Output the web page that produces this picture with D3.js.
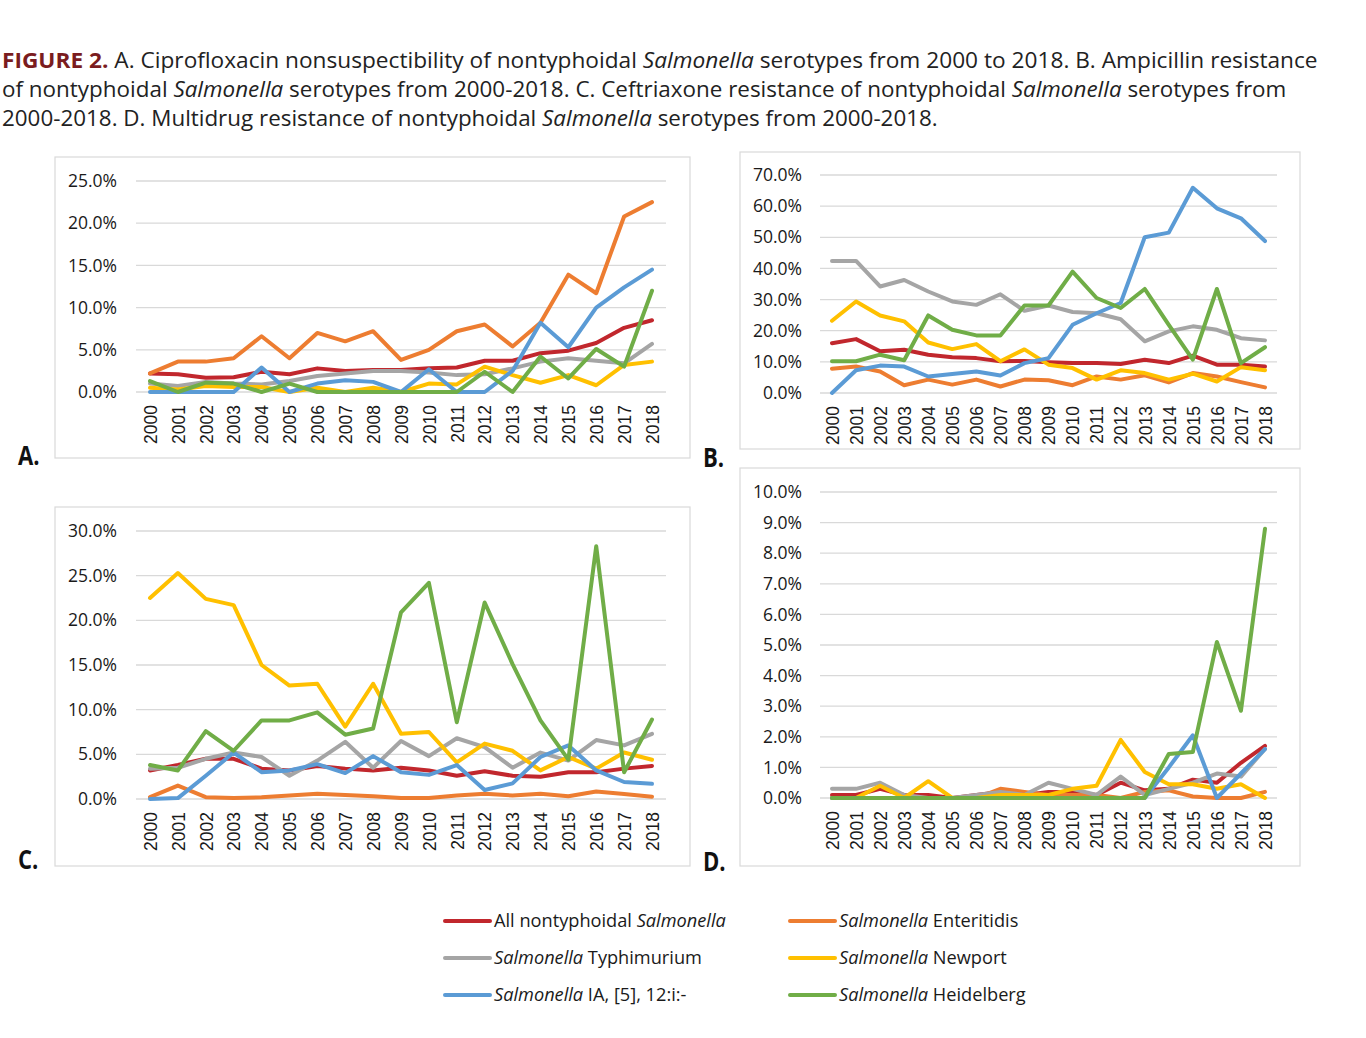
<!DOCTYPE html>
<html><head><meta charset="utf-8">
<script src="https://cdn.jsdelivr.net/npm/d3@7"></script>
<style>body{margin:0;background:#fff;} svg{display:block;}</style>
</head><body>
<svg id="c" width="1366" height="1038"></svg>
<script>
// ---------- data ----------
const years = [2000,2001,2002,2003,2004,2005,2006,2007,2008,2009,2010,2011,2012,2013,2014,2015,2016,2017,2018];
const seriesNames = ["All nontyphoidal", "Enteritidis", "Typhimurium", "Newport", "IA, [5], 12:i:-", "Heidelberg"];
const seriesColors = ["#c1272d", "#ed7d31", "#a5a5a5", "#ffc000", "#5b9bd5", "#70ad47"];

const ticksA = [0,5,10,15,20,25];
const ticksB = [0,10,20,30,40,50,60,70];
const ticksC = [0,5,10,15,20,25,30];
const ticksD = [0,1,2,3,4,5,6,7,8,9,10];

// A. Ciprofloxacin nonsusceptibility (%)
const ciproAll   = [2.2,2.1,1.7,1.75,2.4,2.1,2.8,2.5,2.6,2.6,2.8,2.9,3.7,3.7,4.6,4.9,5.8,7.6,8.5];
const ciproEnt   = [2.2,3.6,3.6,4.0,6.6,4.0,7.0,6.0,7.2,3.8,5.0,7.2,8.0,5.4,8.2,13.9,11.7,20.8,22.5];
const ciproTyph  = [1.0,0.7,1.2,1.0,0.9,1.3,1.9,2.2,2.5,2.5,2.3,2.0,2.1,2.8,3.6,4.0,3.7,3.4,5.7];
const ciproNew   = [0.5,0.3,0.7,0.6,0.6,0.0,0.5,0.0,0.5,0.0,1.0,0.9,3.0,2.0,1.1,2.0,0.8,3.2,3.6];
const ciproIA    = [0,0,0,0,2.9,0,1.0,1.4,1.2,0,2.7,0,0,2.5,8.2,5.3,10.0,12.4,14.5];
const ciproHeid  = [1.3,0,1.1,1.0,0,1.0,0,0,0,0,0,0,2.4,0,4.2,1.6,5.1,3.0,12.0];

// B. Ampicillin resistance (%)
const ampAll  = [16.0,17.3,13.4,13.9,12.3,11.5,11.2,10.2,10.3,9.9,9.6,9.6,9.3,10.7,9.6,12.0,9.1,9.1,8.5];
const ampEnt  = [7.8,8.5,6.9,2.5,4.3,2.7,4.3,2.1,4.3,4.1,2.5,5.3,4.3,5.7,3.4,6.4,5.3,3.5,1.8];
const ampTyph = [42.4,42.4,34.2,36.3,32.6,29.4,28.3,31.7,26.4,28.1,26.0,25.6,23.7,16.6,19.8,21.4,20.3,17.6,16.9];
const ampNew  = [23.2,29.4,24.9,23.0,16.2,14.1,15.7,10.2,14.0,9.1,8.0,4.3,7.3,6.4,4.3,6.2,3.7,8.3,7.3];
const ampIA   = [0,7.3,8.8,8.5,5.3,6.1,6.9,5.6,9.6,11.2,21.9,25.6,28.9,50.0,51.5,65.9,59.3,56.1,48.8];
const ampHeid = [10.2,10.2,12.3,10.5,24.9,20.3,18.5,18.5,28.1,28.1,39.0,30.5,27.3,33.4,21.9,10.7,33.4,9.6,14.7];

// C. Ceftriaxone resistance (%)
const cefAll  = [3.2,3.8,4.5,4.5,3.4,3.2,3.7,3.4,3.2,3.5,3.2,2.6,3.1,2.6,2.5,3.0,3.0,3.4,3.7];
const cefEnt  = [0.2,1.5,0.2,0.1,0.2,0.4,0.6,0.45,0.3,0.1,0.1,0.4,0.6,0.4,0.6,0.3,0.85,0.55,0.25];
const cefTyph = [3.4,3.5,4.5,5.2,4.7,2.6,4.3,6.4,3.5,6.5,4.8,6.8,5.8,3.5,5.2,4.3,6.6,6.0,7.3];
const cefNew  = [22.5,25.3,22.4,21.7,15.0,12.7,12.9,8.1,12.9,7.3,7.5,4.1,6.2,5.4,3.2,4.7,3.4,5.2,4.4];
const cefIA   = [0,0.1,2.6,5.2,3.0,3.2,3.9,2.9,4.8,3.0,2.7,3.8,1.0,1.75,4.7,6.0,3.2,1.9,1.7];
const cefHeid = [3.8,3.2,7.6,5.4,8.8,8.8,9.7,7.2,7.9,20.9,24.2,8.6,22.0,15.1,8.8,4.4,28.3,3.0,8.9];

// D. Multidrug resistance (%)
const mdrAll  = [0.1,0.1,0.3,0.1,0.1,0.0,0.1,0.2,0.1,0.2,0.2,0.1,0.5,0.25,0.3,0.6,0.5,1.15,1.7];
const mdrEnt  = [0,0,0,0,0,0,0,0.3,0.2,0.1,0.1,0.1,0.0,0.2,0.25,0.05,0,0,0.2];
const mdrTyph = [0.3,0.3,0.5,0.1,0.0,0.0,0.1,0.2,0.1,0.5,0.3,0.1,0.7,0.1,0.3,0.5,0.8,0.7,1.6];
const mdrNew  = [0,0,0.4,0,0.55,0,0,0.1,0.1,0.1,0.3,0.4,1.9,0.85,0.45,0.45,0.3,0.45,0];
const mdrIA   = [0,0,0,0,0,0,0,0,0,0,0,0,0,0,1.0,2.05,0,0.8,1.6];
const mdrHeid = [0,0,0,0,0,0,0,0,0,0,0,0,0,0,1.44,1.5,5.1,2.85,8.8];

// ---------- layout ----------
const panels = [
  {label:"A.", lx:18, ly:465, box:[55,157,690,458], xr:[150,652], yr:[392,181], ymax:25, ticks:ticksA, grid:[136,666], tx:117,
   data:[ciproAll,ciproEnt,ciproTyph,ciproNew,ciproIA,ciproHeid]},
  {label:"B.", lx:703, ly:467, box:[740,152,1300,449], xr:[832,1265], yr:[393,175], ymax:70, ticks:ticksB, grid:[820,1277], tx:802,
   data:[ampAll,ampEnt,ampTyph,ampNew,ampIA,ampHeid]},
  {label:"C.", lx:18, ly:869, box:[55,507,690,866], xr:[150,652], yr:[799,531], ymax:30, ticks:ticksC, grid:[136,666], tx:117,
   data:[cefAll,cefEnt,cefTyph,cefNew,cefIA,cefHeid]},
  {label:"D.", lx:703, ly:871, box:[740,468,1300,866], xr:[832,1265], yr:[798,492], ymax:10, ticks:ticksD, grid:[820,1277], tx:802,
   data:[mdrAll,mdrEnt,mdrTyph,mdrNew,mdrIA,mdrHeid]}
];

const svg = d3.select("#c");

// ---------- title ----------
const titleLines = [
  {w:1316, parts:[["FIGURE 2.","b"],[" A. Ciprofloxacin nonsuspectibility of nontyphoidal ","n"],["Salmonella","i"],[" serotypes from 2000 to 2018. B. Ampicillin resistance","n"]]},
  {w:1285, parts:[["of nontyphoidal ","n"],["Salmonella","i"],[" serotypes from 2000-2018. C. Ceftriaxone resistance of nontyphoidal ","n"],["Salmonella","i"],[" serotypes from","n"]]},
  {w:936, parts:[["2000-2018. D. Multidrug resistance of nontyphoidal ","n"],["Salmonella","i"],[" serotypes from 2000-2018.","n"]]}
];
titleLines.forEach((ln,i)=>{
  const g = svg.append("g");
  const t = g.append("text").attr("x",0).attr("y",0)
    .attr("font-family","'Open Sans', sans-serif").attr("font-size",21).attr("fill","#222");
  ln.parts.forEach(p=>{
    const ts = t.append("tspan").text(p[0]);
    if(p[1]==="b") ts.attr("font-weight","bold").attr("fill","#7a1c20");
    if(p[1]==="i") ts.attr("font-style","italic");
  });
  t.style("white-space","pre");
  const w = t.node().getComputedTextLength();
  g.attr("transform",`translate(2,${68+i*29}) scale(${ln.w/w},1)`);
});

// ---------- panels ----------
panels.forEach(p=>{
  const g = svg.append("g");
  const [x0,y0,x1,y1] = p.box;
  g.append("rect").attr("x",x0).attr("y",y0).attr("width",x1-x0).attr("height",y1-y0)
    .attr("fill","#fff").attr("stroke","#d9d9d9").attr("stroke-width",1.2);

  const x = d3.scalePoint().domain(years).range(p.xr);
  const y = d3.scaleLinear().domain([0,p.ymax]).range(p.yr);

  // gridlines
  g.selectAll("line.grid").data(p.ticks).join("line")
    .attr("x1",p.grid[0]).attr("x2",p.grid[1])
    .attr("y1",d=>y(d)).attr("y2",d=>y(d))
    .attr("stroke","#d9d9d9").attr("stroke-width",1.3);

  // y axis labels
  const yAxis = d3.axisLeft(y).tickValues(p.ticks).tickSize(0).tickPadding(0)
    .tickFormat(d=>d.toFixed(1)+"%");
  const ya = g.append("g").attr("transform",`translate(${p.tx},0)`).call(yAxis);
  ya.select(".domain").remove();
  ya.selectAll("text").attr("font-family","'Open Sans', sans-serif").attr("font-size",17.5).attr("fill","#1a1a1a");

  // x axis labels
  const xAxis = d3.axisBottom(x).tickSize(0).tickPadding(0);
  const xa = g.append("g").attr("transform",`translate(0,${p.yr[0]+13})`).call(xAxis);
  xa.select(".domain").remove();
  xa.selectAll("text").attr("font-family","'Liberation Sans', Arial, sans-serif").attr("font-size",17.5).attr("fill","#1a1a1a")
    .attr("transform","rotate(-90)").attr("text-anchor","end").attr("x",0).attr("y",0).attr("dy","0.36em");

  // lines
  const line = d3.line().x((d,i)=>x(years[i])).y(d=>y(d));
  p.data.forEach((s,k)=>{
    g.append("path").datum(s).attr("d",line).attr("fill","none")
      .attr("stroke",seriesColors[k]).attr("stroke-width",4)
      .attr("stroke-linejoin","round").attr("stroke-linecap","round");
  });

  // panel label
  svg.append("text").text(p.label).attr("transform",`translate(${p.lx},${p.ly}) scale(0.85,1)`)
    .attr("font-family","'Open Sans', sans-serif").attr("font-weight","bold").attr("font-size",26).attr("fill","#111");
});

// ---------- legend ----------
const legendItems = [
  {k:0, col:0, row:0, parts:[["All nontyphoidal ","n"],["Salmonella","i"]]},
  {k:1, col:1, row:0, parts:[["Salmonella","i"],[" Enteritidis","n"]]},
  {k:2, col:0, row:1, parts:[["Salmonella","i"],[" Typhimurium","n"]]},
  {k:3, col:1, row:1, parts:[["Salmonella","i"],[" Newport","n"]]},
  {k:4, col:0, row:2, parts:[["Salmonella","i"],[" IA, [5], 12:i:-","n"]]},
  {k:5, col:1, row:2, parts:[["Salmonella","i"],[" Heidelberg","n"]]}
];
const legCols = [445, 790];
const legRows = [921, 958, 995];
legendItems.forEach(it=>{
  const lx = legCols[it.col], ly = legRows[it.row];
  svg.append("line").attr("x1",lx).attr("x2",lx+45).attr("y1",ly).attr("y2",ly)
    .attr("stroke",seriesColors[it.k]).attr("stroke-width",4).attr("stroke-linecap","round");
  const t = svg.append("text").attr("x",lx+49).attr("y",ly).attr("dy","0.35em")
    .attr("font-family","'Open Sans', sans-serif").attr("font-size",18.2).attr("fill","#1a1a1a")
    .style("white-space","pre");
  it.parts.forEach(pt=>{
    const ts = t.append("tspan").text(pt[0]);
    if(pt[1]==="i") ts.attr("font-style","italic");
  });
});
</script>
</body></html>
